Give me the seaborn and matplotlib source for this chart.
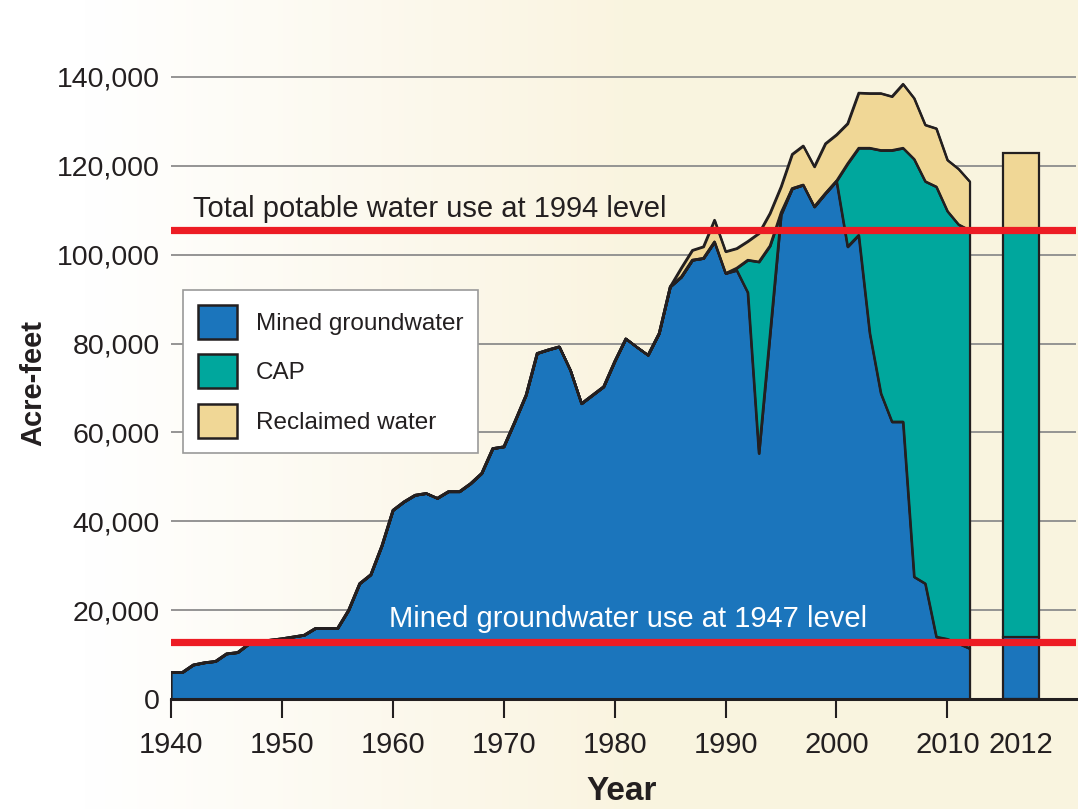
import numpy as np
import pandas as pd
import seaborn as sns
import matplotlib.pyplot as plt
from matplotlib.patches import Patch
from matplotlib.ticker import FuncFormatter

# values in thousands of acre-feet
years = list(range(1940, 2013))
mined = [6.0, 6.0, 7.7, 8.2, 8.5, 10.2, 10.5, 12.4, 13.0, 13.3,
         13.6, 14.0, 14.4, 15.9, 15.9, 15.9, 20.0, 26.0, 28.0, 34.5,
         42.5, 44.4, 45.9, 46.3, 45.2, 46.7, 46.7, 48.5, 50.8, 56.4,
         56.8, 62.5, 68.4, 77.8, 78.6, 79.3, 74.0, 66.5, 68.4, 70.3,
         76.0, 81.1, 79.2, 77.4, 82.3, 92.8, 95.0, 98.8, 99.2, 102.9,
         95.8, 96.5, 91.5, 55.3, 82.0, 109.0, 114.9, 115.7, 110.8, 113.8,
         116.6, 101.8, 104.4, 82.3, 68.8, 62.4, 62.4, 27.5, 26.0, 14.0,
         13.5, 12.5, 11.4]
cap = [0.0] * 51 + [0.5, 7.3, 43.1, 20.0, 0.5, 0.0, 0.0, 0.0, 0.0, 0.0,
                    18.7, 19.6, 41.7, 54.7, 61.1, 61.6, 94.0, 90.5, 101.3,
                    96.3, 94.3, 94.1]
reclaimed = [0.0] * 46 + [2.0, 2.2, 2.6, 4.9, 4.9, 4.4, 4.2, 6.4, 7.3, 5.8,
                          7.7, 8.8, 9.0, 11.2, 10.4, 9.0, 12.4, 12.3, 12.8,
                          12.1, 14.4, 13.7, 12.7, 13.1, 11.5, 12.5, 11.0]

# separate 2012 bar
bar_label = "2012"
bar_mined = 14.0
bar_cap = 91.0
bar_reclaimed = 17.8

level_1994 = 105.6
level_1947 = 12.9

series_names = ["Mined groundwater", "CAP", "Reclaimed water"]
colors = ["#1B75BC", "#00A79D", "#F0D796"]
dark = "#231F20"
red = "#ED1C24"

df = pd.DataFrame({"year": years, "mined": mined, "cap": cap, "reclaimed": reclaimed})
df[["mined", "cap", "reclaimed"]] *= 1000
df["top1"] = df["mined"]
df["top2"] = df["top1"] + df["cap"]
df["top3"] = df["top2"] + df["reclaimed"]

sns.set_theme(style="white")
plt.rcParams["font.family"] = ["Liberation Sans", "DejaVu Sans"]

fig = plt.figure(figsize=(10.78, 8.09), dpi=100)

# cream background, whiter towards the left
bg = fig.add_axes([0, 0, 1, 1], zorder=-5)
gx = np.linspace(0, 1, 400)
w = np.clip(1 - (gx - 0.08) / 0.5, 0, 1)[None, :, None]
cream = np.array([0.980, 0.957, 0.878])
img = w * np.array([1.0, 1.0, 1.0]) + (1 - w) * cream
img = np.repeat(img, 10, axis=0)
bg.imshow(img, aspect="auto", extent=[0, 1, 0, 1])
bg.axis("off")

ax = fig.add_axes([171 / 1078, 1 - 699 / 809, 905 / 1078, 659 / 809])
ax.set_facecolor("none")

base = np.zeros(len(df))
for col, name, c in zip(["top1", "top2", "top3"], series_names, colors):
    ax.fill_between(df["year"], base, df[col], facecolor=c, edgecolor=dark,
                    linewidth=1.6, zorder=3)
    base = df[col].values
for col in ["top1", "top2", "top3"]:
    sns.lineplot(data=df, x="year", y=col, color=dark, linewidth=1.6, ax=ax, zorder=4)

bar_x = 2016.6
bar_w = 3.25
bottom = 0
for v, c in zip([bar_mined, bar_cap, bar_reclaimed], colors):
    ax.bar(bar_x, v * 1000, width=bar_w, bottom=bottom, color=c,
           edgecolor=dark, linewidth=1.6, zorder=3)
    bottom += v * 1000

ax.axhline(level_1994 * 1000, color=red, linewidth=5.2, zorder=6)
ax.axhline(level_1947 * 1000, color=red, linewidth=5.2, zorder=6)
ax.text(1942, 108500, "Total potable water use at 1994 level", fontsize=21,
        color=dark, va="baseline", ha="left", zorder=7)
ax.text(1959.7, 16300, "Mined groundwater use at 1947 level", fontsize=21,
        color="white", va="baseline", ha="left", zorder=7)

ax.set_xlim(1940, 2021.6)
ax.set_ylim(0, 148300)
ax.set_xticks(range(1940, 2011, 10))
ax.set_xticks([bar_x], [bar_label], minor=True)
ax.set_yticks(range(0, 140001, 20000))
ax.yaxis.set_major_formatter(FuncFormatter(lambda v, p: f"{int(v):,}"))
ax.grid(axis="y", color="#8C8C8C", linewidth=1.3)
ax.set_axisbelow(True)

ax.tick_params(axis="x", which="major", length=14, width=1.5, color=dark,
               pad=9, labelsize=21, labelcolor=dark, bottom=True)
ax.tick_params(axis="x", which="minor", length=0, pad=23, labelsize=21,
               labelcolor=dark, bottom=True)
ax.tick_params(axis="y", length=0, pad=8, labelsize=20.5, labelcolor=dark)

for s in ["left", "right", "top"]:
    ax.spines[s].set_visible(False)
ax.spines["bottom"].set_color(dark)
ax.spines["bottom"].set_linewidth(2.2)
ax.spines["bottom"].set_zorder(8)

ax.set_xlabel("")
ax.set_ylabel("")
ax.text(-0.152, 0.48, "Acre-feet", transform=ax.transAxes, rotation=90,
        ha="center", va="center", fontsize=21, fontweight="bold", color=dark)
ax.text(0.498, -0.141, "Year", transform=ax.transAxes, ha="center",
        va="center", fontsize=24, fontweight="bold", color=dark)

handles = [Patch(facecolor=c, edgecolor=dark, linewidth=1.8) for c in colors]
leg = ax.legend(handles, series_names, loc="upper left",
                bbox_to_anchor=(0.0133, 0.6206), borderaxespad=0,
                fontsize=17.5, handlelength=1.6, handleheight=1.8,
                labelspacing=0.62, borderpad=0.6, handletextpad=0.8,
                frameon=True, fancybox=False, framealpha=1)
leg.get_frame().set_edgecolor("#9A9A9A")
leg.get_frame().set_linewidth(1.2)
leg.set_zorder(9)
for t in leg.get_texts():
    t.set_color(dark)

fig.savefig("out.png", dpi=100)
